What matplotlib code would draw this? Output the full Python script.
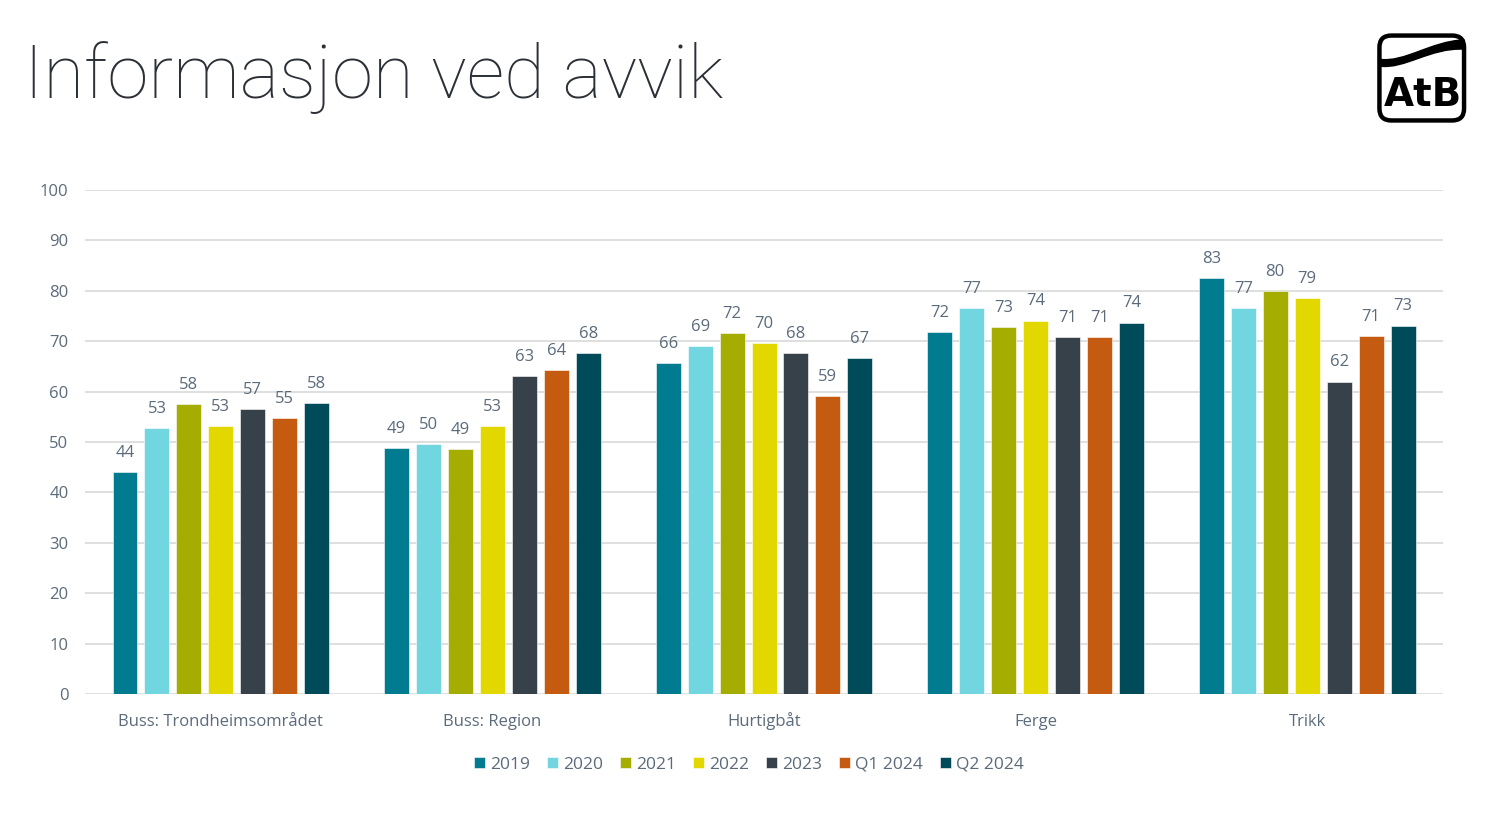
import matplotlib
matplotlib.use("Agg")
import matplotlib.pyplot as plt
import numpy as np
from matplotlib.patches import FancyBboxPatch, PathPatch
from matplotlib.path import Path

kategorier = ["Buss: Trondheimsområdet", "Buss: Region", "Hurtigbåt", "Ferge", "Trikk"]
serier = ["2019", "2020", "2021", "2022", "2023", "Q1 2024", "Q2 2024"]

v2019 = [44.0, 48.8, 65.6, 71.8, 82.6]
v2020 = [52.8, 49.6, 69.0, 76.6, 76.6]
v2021 = [57.6, 48.6, 71.6, 72.8, 80.0]
v2022 = [53.1, 53.2, 69.6, 74.1, 78.6]
v2023 = [56.6, 63.0, 67.6, 70.9, 62.0]
vq1_2024 = [54.8, 64.2, 59.1, 70.9, 71.1]
vq2_2024 = [57.7, 67.6, 66.6, 73.7, 73.1]
verdier = [v2019, v2020, v2021, v2022, v2023, vq1_2024, vq2_2024]

farger = ["#007B8F", "#72D6E0", "#A5AD00", "#E2D800", "#37414A", "#C55A11", "#004B5A"]
TXT = "#5B6B7B"

fig = plt.figure(figsize=(14.95, 8.13), dpi=100, facecolor="white")
ax = fig.add_axes([0.0569, 0.1464, 0.9083, 0.6199])

x = np.arange(len(kategorier))
steg = 32 / 272
bredde = 25 / 272
for i, (navn, vals, c) in enumerate(zip(serier, verdier, farger)):
    pos = x + (i - 3) * steg
    ax.bar(pos, vals, width=bredde, color=c, label=navn, zorder=3,
           edgecolor="white", linewidth=0.4)
    for px, v in zip(pos, vals):
        ax.text(px, v + 2.2, f"{v:.0f}", ha="center", va="bottom",
                fontsize=12, color=TXT, family="Open Sans")

ax.set_xlim(-0.5, 4.5)
ax.set_ylim(0, 100)
ax.set_yticks(range(0, 101, 10))
ax.set_xticks(x)
ax.set_xticklabels(kategorier)
ax.grid(axis="y", color="#D9D9D9", linewidth=1.2, zorder=0)
for s in ax.spines.values():
    s.set_visible(False)
ax.tick_params(length=0, labelsize=12, colors=TXT)
ax.tick_params(axis="y", pad=12)
ax.tick_params(axis="x", pad=23)
for lab in ax.get_xticklabels():
    lab.set_family("Open Sans")
    lab.set_va("baseline")
for lab in ax.get_yticklabels():
    lab.set_family("Open Sans")

leg = ax.legend(loc="upper center", bbox_to_anchor=(0.489, -0.094), ncol=7,
                frameon=False, handlelength=0.6, handleheight=0.6,
                handletextpad=0.3, columnspacing=1.0,
                prop={"family": "Open Sans", "size": 12.5})
for t in leg.get_texts():
    t.set_color(TXT)

fig.text(0.016, 0.905, "Informasjon ved avvik", fontsize=53.5, color="#2B2F36",
         family="Roboto", fontweight="light", ha="left", va="center")

# AtB-logo
lax = fig.add_axes([0.921, 0.8487, 0.060, 0.1107])
lax.set_xlim(-3, 103)
lax.set_ylim(-3, 103)
lax.axis("off")
lax.add_patch(FancyBboxPatch((0, 0), 100, 100, boxstyle="round,pad=0,rounding_size=14",
                             fill=False, edgecolor="black", linewidth=3.2))
verts = [(0, 64), (30, 60), (60, 86), (100, 84),
         (100, 95), (60, 93), (30, 68), (0, 72), (0, 64)]
codes = [Path.MOVETO, Path.CURVE4, Path.CURVE4, Path.CURVE4,
         Path.LINETO, Path.CURVE4, Path.CURVE4, Path.CURVE4, Path.CLOSEPOLY]
lax.add_patch(PathPatch(Path(verts, codes), facecolor="black", edgecolor="black", lw=1))
lax.text(52, 30, "AtB", fontsize=28, fontweight="heavy", ha="center", va="center",
         family=["Liberation Sans Narrow", "DejaVu Sans"], color="black")

fig.savefig("out.png", dpi=100, facecolor="white")
